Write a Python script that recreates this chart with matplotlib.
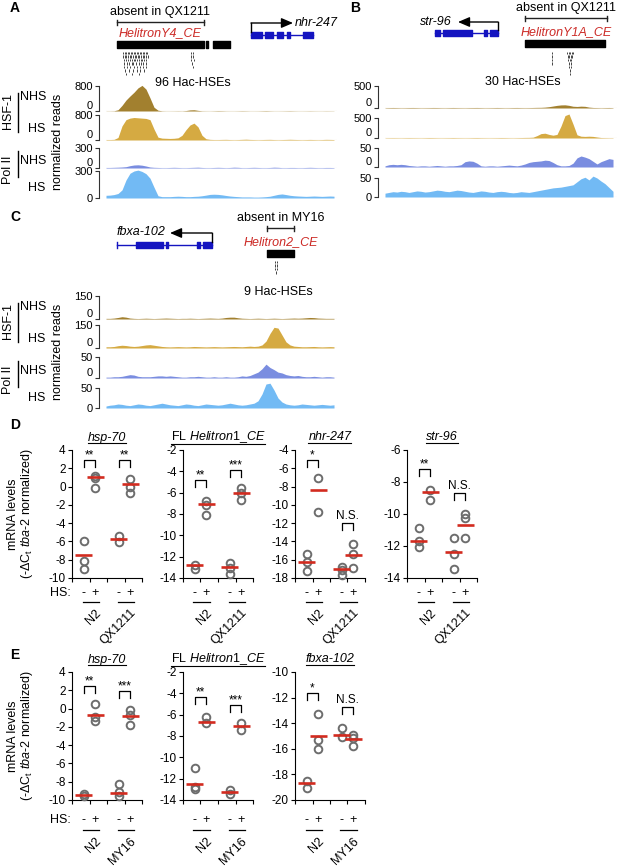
import numpy as np
import matplotlib
matplotlib.use('Agg')
import matplotlib.pyplot as plt
import matplotlib.transforms as mtransforms
from matplotlib.lines import Line2D

plt.rcParams['font.family'] = ['Liberation Sans', 'DejaVu Sans']
plt.rcParams['mathtext.fontset'] = 'custom'
plt.rcParams['mathtext.rm'] = 'Liberation Sans'
plt.rcParams['mathtext.it'] = 'Liberation Sans:italic'
plt.rcParams['axes.linewidth'] = 0.8
plt.rcParams['axes.unicode_minus'] = False

W, H = 617, 866

# ---------------- browser tracks (one value every 4 px of track) ----------------
a_hsf_nhs = [5, 5, 8, 40, 180, 350, 480, 600, 740, 820, 700, 420, 120, 25, 8, 5, 5, 6, 8, 6,
             15, 35, 40, 20, 8, 6, 5, 8, 12, 10, 6, 5, 5, 7, 10, 8, 5, 5, 6, 9,
             12, 8, 5, 5, 6, 8, 10, 7, 5, 5, 6, 8, 6, 5, 5, 7, 6, 5]
a_hsf_hs = [15, 15, 20, 80, 450, 650, 700, 720, 710, 700, 690, 650, 350, 90, 60, 55, 50, 55, 70, 150,
            330, 480, 540, 420, 150, 40, 20, 15, 15, 18, 20, 15, 12, 15, 20, 25, 18, 15, 12, 15,
            18, 20, 15, 12, 15, 18, 22, 18, 15, 12, 15, 18, 15, 12, 15, 20, 18, 15]
a_pol_nhs = [8, 8, 10, 12, 15, 20, 35, 45, 48, 42, 30, 15, 10, 8, 6, 6, 8, 10, 8, 6,
             6, 8, 10, 12, 8, 6, 6, 8, 10, 8, 6, 8, 12, 10, 6, 6, 8, 10, 8, 6,
             6, 8, 12, 10, 6, 6, 8, 8, 6, 6, 8, 10, 8, 6, 6, 8, 8, 6]
a_pol_hs = [30, 32, 38, 50, 90, 200, 275, 300, 310, 295, 270, 220, 120, 25, 15, 15, 15, 18, 20, 18,
            15, 15, 18, 20, 25, 32, 40, 42, 40, 35, 28, 22, 18, 15, 12, 12, 12, 10, 10, 12,
            15, 20, 30, 40, 45, 38, 30, 25, 22, 20, 18, 20, 22, 20, 18, 20, 22, 20]

b_hsf_nhs = [8, 10, 12, 10, 8, 9, 11, 12, 10, 8, 9, 10, 12, 11, 9, 8, 10, 12, 10, 9,
             8, 10, 11, 12, 10, 8, 9, 10, 12, 10, 8, 9, 11, 12, 10, 9, 10, 12, 14, 15,
             20, 30, 45, 60, 70, 72, 60, 40, 35, 42, 38, 20, 12, 10, 8, 10, 12, 8]
b_hsf_hs = [8, 9, 10, 9, 8, 10, 11, 10, 9, 8, 10, 12, 11, 9, 8, 9, 10, 12, 10, 9,
            8, 9, 11, 12, 10, 9, 8, 9, 10, 12, 11, 9, 8, 10, 12, 14, 15, 20, 60, 110,
            120, 90, 70, 90, 300, 560, 600, 350, 80, 45, 40, 45, 40, 25, 12, 10, 8, 8]
b_pol_nhs = [3, 6, 7, 6, 7, 6, 4, 3, 2, 3, 3, 2, 3, 4, 3, 2, 3, 3, 4, 6,
             14, 16, 15, 10, 3, 2, 3, 3, 2, 3, 4, 5, 4, 3, 5, 8, 12, 14, 15, 16,
             18, 17, 12, 6, 3, 3, 4, 10, 24, 29, 26, 22, 15, 8, 14, 18, 22, 20]
b_pol_hs = [10, 12, 14, 13, 15, 14, 12, 14, 16, 15, 13, 14, 16, 18, 17, 15, 14, 16, 18, 17,
            15, 13, 12, 14, 16, 15, 13, 12, 14, 15, 14, 12, 11, 12, 14, 13, 12, 14, 16, 18,
            20, 22, 24, 25, 26, 28, 30, 32, 40, 48, 52, 45, 55, 50, 42, 35, 25, 15]

c_hsf_nhs = [4, 4, 6, 10, 15, 12, 6, 4, 3, 4, 5, 4, 3, 4, 5, 6, 5, 4, 3, 4,
             4, 5, 4, 3, 4, 5, 6, 5, 4, 6, 10, 12, 12, 8, 5, 4, 3, 4, 5, 4,
             3, 4, 5, 4, 3, 4, 5, 6, 5, 6, 8, 10, 9, 6, 5, 4, 4, 4]
c_hsf_hs = [8, 8, 10, 15, 18, 16, 12, 10, 12, 16, 20, 22, 18, 14, 10, 8, 7, 8, 9, 8,
            7, 8, 10, 9, 8, 7, 8, 9, 8, 7, 8, 9, 10, 9, 8, 10, 12, 10, 12, 20,
            45, 95, 135, 130, 85, 40, 20, 12, 10, 8, 8, 9, 10, 8, 7, 8, 9, 8]
c_pol_nhs = [2, 2, 3, 3, 4, 6, 8, 7, 4, 3, 3, 3, 4, 5, 5, 4, 5, 4, 3, 2,
             2, 3, 3, 4, 3, 2, 2, 3, 2, 2, 3, 2, 2, 3, 5, 4, 6, 10, 14, 22,
             33, 25, 20, 14, 12, 8, 6, 5, 6, 4, 3, 3, 4, 3, 2, 3, 3, 2]
c_pol_hs = [5, 7, 8, 10, 9, 7, 6, 8, 10, 9, 7, 6, 8, 10, 12, 10, 8, 7, 6, 8,
            10, 9, 7, 6, 8, 10, 9, 8, 7, 8, 10, 12, 10, 8, 7, 8, 10, 12, 18, 35,
            60, 62, 45, 25, 15, 10, 8, 7, 8, 10, 9, 8, 7, 8, 9, 8, 7, 8]

track_tops_a = [800, 800, 300, 300]
track_tops_b = [500, 500, 50, 50]
track_tops_c = [150, 150, 50, 50]

# gene / element annotations (px offsets along each track)
a_element = (11, 98)
a_blocks = [(11, 98), (100, 101.5), (107, 124)]
a_gene_exons = [(145, 156), (159, 167), (171, 177), (181, 184), (197, 207)]
a_gene_span = (145, 207)
a_hse_rows = [[17, 18.5, 20, 21.5, 23, 24.5, 26, 27.5, 29, 30.5, 32, 33.5, 35, 36.5, 38, 39.5, 41, 85, 87],
              [17, 18.5, 20, 22, 23.5, 25, 27, 28.5, 30, 31.5, 33, 35, 36.5, 38, 40, 41.5, 84.5, 86.5],
              [18, 20, 21.5, 24, 26, 27.5, 29, 31, 33, 34.5, 36, 38, 40, 85, 87.5],
              [17.5, 20.5, 23, 25.5, 27, 30, 32.5, 35, 37, 39.5, 86],
              [18, 21, 24, 28, 31, 34, 36.5, 40, 86.5],
              [19, 23, 27, 30.5, 34, 38],
              [20, 26, 33]]

b_element = (140, 222)
b_blocks = [(140, 220)]
b_gene_exons = [(50, 55), (58, 87), (99, 102), (105, 113)]
b_gene_span = (50, 113)
b_hse_rows = [[167, 182, 183.5, 185, 186.5, 188],
              [167, 182.5, 184, 185.5, 187],
              [167, 183, 184.5, 186],
              [167, 183.5, 185.5],
              [184, 186],
              [184.5],
              [185]]

c_element = (161, 188)
c_blocks = [(161, 188)]
c_gene_exons = [(30, 57), (60, 62), (91, 94), (97, 106)]
c_gene_span = (11, 106)
c_hse_rows = [[168.5, 170.5], [168.5, 170.5], [169, 171], [169.5]]

# ---------------- qPCR (mRNA levels) ----------------
conds = ['-', '+', '-', '+']
d_groups = ['N2', 'QX1211']
e_groups = ['N2', 'MY16']

d_hsp70 = [[-5.9, -8.1, -9.0], [1.15, 0.9, -0.2], [-5.4, -6.1], [0.8, -0.1, -0.7]]
d_hsp70_mean = [-7.5, 1.0, -5.7, 0.25]
d_fl = [[-12.75, -13.2], [-6.8, -7.2, -8.1], [-12.6, -13.05, -13.6], [-5.6, -6.0, -6.7]]
d_fl_mean = [-12.8, -7.05, -12.95, -6.05]
d_nhr = [[-15.4, -16.2, -17.2], [-7.1, -10.8], [-16.8, -17.1, -17.7], [-14.25, -15.4, -16.95]]
d_nhr_mean = [-16.3, -8.4, -17.05, -15.5]
d_str = [[-10.86, -11.7, -12.06], [-8.52, -9.15], [-11.48, -12.48, -13.46], [-10.0, -10.27, -11.52]]
d_str_mean = [-11.67, -8.63, -12.35, -10.69]

e_hsp70 = [[-9.33, -9.55], [0.45, -0.9, -1.4], [-8.3, -9.1, -9.6], [-0.2, -0.65, -1.75]]
e_hsp70_mean = [-9.44, -0.65, -9.2, -0.8]
e_fl = [[-11.03, -12.75, -13.0], [-6.2, -6.8], [-13.1, -13.4], [-6.8, -7.4]]
e_fl_mean = [-12.5, -6.67, -13.25, -7.1]
e_fbxa = [[-18.54, -19.06], [-13.3, -15.35, -16.0], [-14.38, -15.1], [-14.9, -15.15, -15.75]]
e_fbxa_mean = [-18.7, -14.98, -14.9, -15.26]

POS = [1, 2, 4, 5]

HSF_NHS = '#a2802f'
HSF_HS = '#d5aa42'
POL_NHS = '#7a8de0'
POL_HS = '#72baf4'
GENE = '#1414c0'
RED = '#cc2a26'

fig = plt.figure(figsize=(W / 100, H / 100), dpi=100)


def rect(x0, y0, x1, y1):
    return [x0 / W, 1 - y1 / H, (x1 - x0) / W, (y1 - y0) / H]


def ftext(x, y, s, **kw):
    kw.setdefault('fontsize', 9)
    return fig.text(x / W, 1 - y / H, s, **kw)


def fline(xs, ys, lw=1.0, color='k'):
    fig.add_artist(Line2D([x / W for x in xs], [1 - y / H for y in ys], lw=lw, color=color))


def track(px, vals, top, color, base, xmax, last=False):
    ax = fig.add_axes(rect(*px))
    x = np.arange(len(vals)) * 4
    ax.axhline(0, color=base, lw=0.8, zorder=1)
    ax.fill_between(x, 0, vals, color=color, lw=0, clip_on=False, zorder=2)
    ax.set_xlim(0, xmax)
    ax.set_ylim(0, top)
    for s in ['top', 'right', 'bottom']:
        ax.spines[s].set_visible(False)
    ax.spines['left'].set_position(('outward', 5))
    ax.spines['left'].set_color('#333333')
    ax.set_yticks([0, top])
    ax.set_xticks([])
    ax.tick_params(axis='y', length=3, width=0.8, labelsize=8, pad=1.5, color='#333333')
    if not last:
        ax.get_yticklabels()[0].set_va('bottom')
    ax.patch.set_alpha(0)
    return ax


def annot_axes(x0, y0, x1, y1, xmax):
    ax = fig.add_axes(rect(x0, y0, x1, y1))
    ax.set_xlim(0, xmax)
    ax.set_ylim(y1, y0)
    ax.axis('off')
    return ax


def draw_gene(ax, span, exons, y, tss, arrow_end, arrow_y):
    ax.plot(span, [y, y], color=GENE, lw=1)
    ax.broken_barh([(a, b - a) for a, b in exons], (y - 3, 6), color=GENE)
    ax.plot([tss, tss], [y - 3, arrow_y], color='k', lw=1)
    ax.annotate('', xy=(arrow_end, arrow_y), xytext=(tss, arrow_y),
                arrowprops=dict(arrowstyle='-|>,head_length=0.7,head_width=0.3', color='k',
                                lw=1, shrinkA=0, shrinkB=0, mutation_scale=10))


def draw_element(ax, element, blocks, bracket_y, bar_y, hse_rows, hse_y0, absent, name, name_y):
    a, b = element
    ax.plot([a, b], [bracket_y, bracket_y], color='#222222', lw=1)
    ax.plot([a, a], [bracket_y - 2.5, bracket_y + 2.5], color='#222222', lw=1)
    ax.plot([b, b], [bracket_y - 2.5, bracket_y + 2.5], color='#222222', lw=1)
    ax.text((a + b) / 2, bracket_y - 10, absent, ha='center', va='center', fontsize=9)
    ax.text((a + b) / 2, name_y, name, ha='center', va='center', fontsize=9,
            color=RED, style='italic')
    ax.broken_barh([(p, q - p) for p, q in blocks], (bar_y, 6.5), color='k')
    offs = [hse_y0 + 3.5 * i for i in range(len(hse_rows))]
    ax.eventplot(hse_rows, lineoffsets=offs, linelengths=2.2, linewidths=0.7, colors='#444444')


# ---------------- panel A ----------------
ftext(10, 8, 'A', fontsize=10, weight='bold', va='center')
axa = annot_axes(106, 0, 337, 86, 231)
draw_element(axa, a_element, a_blocks, 22, 41, a_hse_rows, 53, 'absent in QX1211', 'HelitronY4_CE', 33)
draw_gene(axa, a_gene_span, a_gene_exons, 35, 145, 187, 23)
axa.text(189, 23, 'nhr-247', fontsize=9, style='italic', va='center', ha='left')
axa.text(87, 83, '96 Hac-HSEs', fontsize=9, ha='center', va='center')

a_rows = [(106, 86, 337, 111), (106, 115, 337, 140), (106, 148, 337, 168), (106, 171, 337, 198)]
for px, v, t, c, bc, last in zip(a_rows, [a_hsf_nhs, a_hsf_hs, a_pol_nhs, a_pol_hs], track_tops_a,
                                 [HSF_NHS, HSF_HS, POL_NHS, POL_HS],
                                 ['#e6d9b0', '#e6d9b0', '#cdd8f2', '#cdd8f2'], [0, 0, 0, 1]):
    track(px, v, t, c, bc, 231, last)

# ---------------- panel B ----------------
ftext(350, 8, 'B', fontsize=10, weight='bold', va='center')
axb = annot_axes(385, 0, 617, 86, 232)
draw_element(axb, b_element, b_blocks, 18, 40, b_hse_rows, 53, 'absent in QX1211', 'HelitronY1A_CE', 32)
draw_gene(axb, b_gene_span, b_gene_exons, 33, 113, 73, 22)
axb.text(67, 22, 'str-96', fontsize=9, style='italic', va='center', ha='right')
axb.text(138, 82, '30 Hac-HSEs', fontsize=9, ha='center', va='center')

b_rows = [(385, 86, 617, 108), (385, 118, 617, 138), (385, 148, 617, 167), (385, 178, 617, 197)]
for px, v, t, c, bc, last in zip(b_rows, [b_hsf_nhs, b_hsf_hs, b_pol_nhs, b_pol_hs], track_tops_b,
                                 [HSF_NHS, HSF_HS, POL_NHS, POL_HS],
                                 ['#e6d9b0', '#e6d9b0', '#cdd8f2', '#cdd8f2'], [0, 0, 0, 1]):
    track(px, v, t, c, bc, 232, last)

# ---------------- panel C ----------------
ftext(10, 217, 'C', fontsize=10, weight='bold', va='center')
axc = annot_axes(106, 210, 337, 296, 231)
draw_element(axc, c_element, c_blocks, 228, 250, c_hse_rows, 262, 'absent in MY16', 'Helitron2_CE', 242)
draw_gene(axc, c_gene_span, c_gene_exons, 245, 106, 64, 233)
axc.plot([11, 11], [242, 248], color=GENE, lw=1)
axc.text(59, 232, 'fbxa-102', fontsize=9, style='italic', va='center', ha='right')
axc.text(172, 292, '9 Hac-HSEs', fontsize=9, ha='center', va='center')

c_rows = [(106, 296, 337, 319), (106, 325, 337, 348), (106, 357, 337, 378), (106, 388, 337, 408)]
for px, v, t, c, bc, last in zip(c_rows, [c_hsf_nhs, c_hsf_hs, c_pol_nhs, c_pol_hs], track_tops_c,
                                 [HSF_NHS, HSF_HS, POL_NHS, POL_HS],
                                 ['#e6d9b0', '#e6d9b0', '#cdd8f2', '#cdd8f2'], [0, 0, 0, 1]):
    track(px, v, t, c, bc, 231, last)

# row labels for A and C
for dy in [0, 210]:
    ftext(8, 111 + dy, 'HSF-1', rotation=90, ha='center', va='center')
    fline([18, 18], [93 + dy, 132 + dy])
    ftext(20, 97 + dy, 'NHS', ha='left', va='center')
    ftext(45, 129 + dy, 'HS', ha='right', va='center')
    ftext(8, 170 + dy, 'Pol II', rotation=90, ha='center', va='center')
    fline([18, 18], [151 + dy, 177 + dy])
    ftext(20, 161 + dy, 'NHS', ha='left', va='center')
    ftext(45, 188 + dy, 'HS', ha='right', va='center')
    ftext(58, 142 + dy, 'normalized reads', rotation=90, ha='center', va='center')

# ---------------- panels D / E ----------------
titles = []


def expr_panel(px, title, ylim, vals, means, sigs, tops, groups, ypm, yline, show_hs, italic=True):
    x0, y0, x1, y1 = px
    ax = fig.add_axes(rect(*px))
    ax.set_xlim(0, 6)
    ax.set_ylim(*ylim)
    for p, v, m in zip(POS, vals, means):
        ax.plot(np.full(len(v), p), v, 'o', ms=5.5, mfc='none', mec='#6d6d6d', mew=1.4,
                clip_on=False, zorder=3)
        ax.plot([p - 0.75, p + 0.75], [m, m], color='#d22b1f', lw=1.9, zorder=4,
                solid_capstyle='butt')
    unit = (y1 - y0) / (ylim[1] - ylim[0])
    depth = 7 / unit
    pairs = [(POS[0], POS[1]), (POS[2], POS[3])]
    for (a, b), s, t in zip(pairs, sigs, tops):
        ax.plot([a, a, b, b], [t - depth, t, t, t - depth], color='k', lw=0.9, clip_on=False)
        off = (1.5 if '*' in s else 4) / unit
        ax.text((a + b) / 2, t + off, s, ha='center', va='baseline', fontsize=8.5, clip_on=False)
    for s in ['top', 'right']:
        ax.spines[s].set_visible(False)
    ax.set_yticks(np.arange(ylim[0], ylim[1] + 1, 2))
    ax.set_xticks([0, 1.5, 3, 4.5, 6])
    ax.set_xticklabels([])
    ax.tick_params(direction='out', length=3, width=0.8, labelsize=8.5, pad=1.5)
    ax.patch.set_alpha(0)
    trans = mtransforms.blended_transform_factory(ax.transData, fig.transFigure)
    for p, s in zip(POS, conds):
        ax.text(p, 1 - ypm / H, s, transform=trans, ha='center', va='center', fontsize=9)
    for (a, b), g in zip(pairs, groups):
        ax.plot([a - 0.1, b + 0.3], [1 - yline / H] * 2, transform=trans, color='k', lw=0.9,
                clip_on=False)
        ax.text((a + b) / 2 + 0.45, 1 - (yline + 5) / H, g, transform=trans, rotation=45,
                ha='right', va='top', rotation_mode='anchor', fontsize=9)
    if show_hs:
        ftext(x0 - 1, ypm, 'HS:', ha='right', va='center')
    t = ftext((x0 + x1) / 2, y0 - 12.5, title, ha='center', va='center',
              style='italic' if italic else 'normal')
    titles.append(t)
    return ax


FL = r'FL $\mathit{Helitron1\_CE}$'

ftext(10, 425, 'D', fontsize=10, weight='bold', va='center')
expr_panel((72, 450, 142, 578), 'hsp-70', (-10, 4), d_hsp70, d_hsp70_mean, ['**', '**'],
           [2.9, 2.9], d_groups, 593, 602, True)
expr_panel((183, 450, 253, 578), FL, (-14, -2), d_fl, d_fl_mean, ['**', '***'],
           [-4.8, -3.9], d_groups, 593, 602, False, italic=False)
expr_panel((295, 450, 365, 578), 'nhr-247', (-18, -4), d_nhr, d_nhr_mean, ['*', 'N.S.'],
           [-5.1, -12.0], d_groups, 593, 602, False)
expr_panel((407, 450, 477, 578), 'str-96', (-14, -6), d_str, d_str_mean, ['**', 'N.S.'],
           [-7.2, -8.7], d_groups, 593, 602, False)
ftext(21, 514, 'mRNA levels\n' + r'(-ΔC$_\mathrm{t}$ $\mathit{tba}$-2 normalized)', rotation=90,
      ha='center', va='center', linespacing=1.05, multialignment='center')

ftext(10, 655, 'E', fontsize=10, weight='bold', va='center')
expr_panel((72, 672, 142, 800), 'hsp-70', (-10, 4), e_hsp70, e_hsp70_mean, ['**', '***'],
           [2.47, 1.9], e_groups, 820, 830, True)
expr_panel((183, 672, 253, 800), FL, (-14, -2), e_fl, e_fl_mean, ['**', '***'],
           [-4.35, -5.1], e_groups, 820, 830, False, italic=False)
expr_panel((295, 672, 365, 800), 'fbxa-102', (-20, -10), e_fbxa, e_fbxa_mean, ['*', 'N.S.'],
           [-11.65, -12.75], e_groups, 820, 830, False)
ftext(21, 736, 'mRNA levels\n' + r'(-ΔC$_\mathrm{t}$ $\mathit{tba}$-2 normalized)', rotation=90,
      ha='center', va='center', linespacing=1.05, multialignment='center')

# underline the gene titles
fig.canvas.draw()
renderer = fig.canvas.get_renderer()
for t in titles:
    bb = t.get_window_extent(renderer)
    y = (bb.y0 + 1) / H
    fig.add_artist(Line2D([bb.x0 / W, bb.x1 / W], [y, y], lw=0.8, color='k'))

fig.savefig('out.png', dpi=100)
